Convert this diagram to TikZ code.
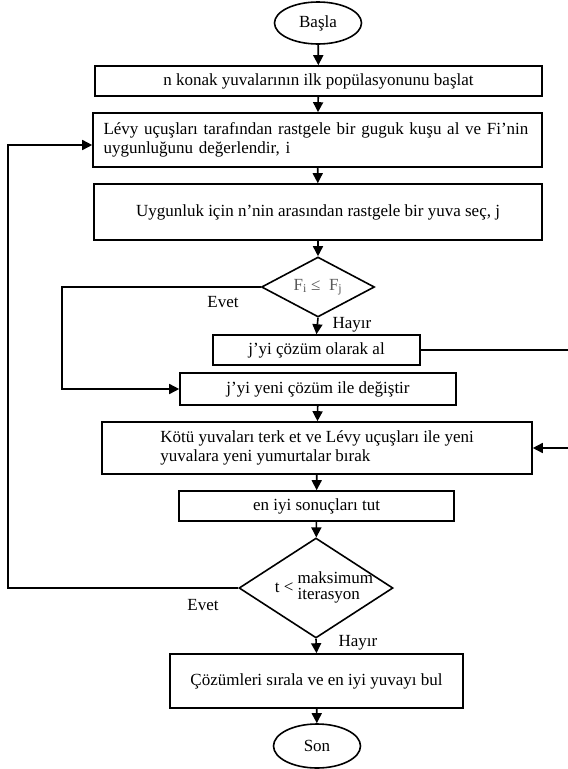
\documentclass[tikz,border=0pt]{standalone}
\usepackage{fontspec}
\setmainfont{Liberation Serif}
\usetikzlibrary{shapes.geometric,arrows.meta,calc}
\begin{document}
\begin{tikzpicture}[x=1pt,y=-1pt,
  every node/.style={font=\fontsize{17}{19}\selectfont},
  box/.style={draw,line width=1.6pt,rectangle,inner sep=0pt},
  term/.style={draw,line width=1.6pt,ellipse,inner sep=0pt,minimum width=87pt,minimum height=42pt},
  dec/.style={draw,line width=1.6pt,diamond,inner sep=0pt},
  lbl/.style={inner sep=0pt},
  arr/.style={line width=1.6pt,-{Triangle[length=10pt,width=10pt]}},
  ln/.style={line width=1.6pt}]
\useasboundingbox (0,0) rectangle (568,769);
\fill[white] (0,0) rectangle (568,769);

\node[term] (start) at (318,23) {Başla};
\node[box,minimum width=447pt,minimum height=30pt] (b1) at (318.5,81) {n konak yuvalarının ilk popülasyonunu başlat};
\node[box,minimum width=449pt,minimum height=54pt,text width=428pt,align=left] (b2) at (317.5,140) {Lévy uçuşları tarafından rastgele bir guguk kuşu al ve Fi'nin\\uygunluğunu değerlendir, i};
\node[box,minimum width=448pt,minimum height=56pt] (b3) at (318,212) {Uygunluk için n'nin arasından rastgele bir yuva seç, j};
\node[dec,minimum width=113pt,minimum height=60pt] (d1) at (318,287) {};
\node[lbl,text=black!65] (d1t) at (318,287) {F\textsubscript{i} ≤~ F\textsubscript{j}};
\node[box,minimum width=207pt,minimum height=30pt] (b4) at (316.5,350) {j'yi çözüm olarak al};
\node[box,minimum width=276pt,minimum height=32pt] (b5) at (318,389) {j'yi yeni çözüm ile değiştir};
\node[box,minimum width=430pt,minimum height=52pt,align=left] (b6) at (317,448) {Kötü yuvaları terk et ve Lévy uçuşları ile yeni\\yuvalara yeni yumurtalar bırak};
\node[box,minimum width=275pt,minimum height=30pt] (b7) at (316.5,506) {en iyi sonuçları tut};
\node[dec,minimum width=154pt,minimum height=100pt] (d2) at (316,588) {};
\node[lbl] (d2t) at (324,588) {t <\ \begin{tabular}{@{}l@{}}maksimum\\[-3pt]iterasyon\end{tabular}};
\node[box,minimum width=293pt,minimum height=54pt] (b8) at (316.5,681) {\raisebox{3pt}{Çözümleri sırala ve en iyi yuvayı bul}};
\node[term,minimum height=44pt] (son) at (317,746) {Son};

\node[lbl] (e1) at (223,302) {Evet};
\node[lbl] (h1) at (352,325) {Hayır};
\node[lbl] (e2) at (203,605) {Evet};
\node[lbl] (h2) at (358,643) {Hayır};

\coordinate (cL) at (62,0);
\coordinate (cLL) at (8,0);
\coordinate (cR) at (571,0);

\draw[arr] (start) -- (b1);
\draw[arr] (b1) -- (b2);
\draw[arr] (b2) -- (b3);
\draw[arr] (b3) -- (d1);
\draw[arr] (d1.south) -- (b4.north);
\draw[arr] (d1.west) -- (d1.west -| cL) |- (b5.west);
\draw[arr] (b4.east) -- (b4.east -| cR) |- (b6.east);
\draw[arr] (b5) -- (b6);
\draw[arr] (b6) -- (b7);
\draw[arr] (b7) -- (d2);
\draw[arr] (d2.south) -- (b8.north);
\draw[arr] (b8) -- (son);
\draw[arr] (d2.west) -- (d2.west -| cLL) |- ([yshift=-5pt]b2.west);
\end{tikzpicture}
\end{document}
